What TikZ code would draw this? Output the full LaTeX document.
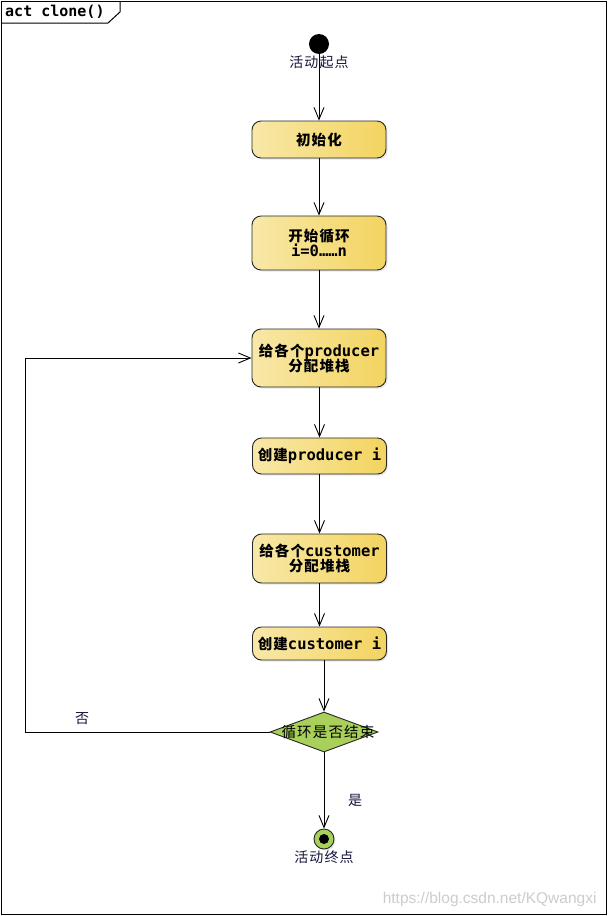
\documentclass[tikz,border=0pt]{standalone}
\usepackage{fontspec}
\setsansfont{Liberation Sans}
\newfontfamily\cjk{Noto Sans CJK SC}[LetterSpace=8]
\newfontfamily\monob{DejaVu Sans Mono}
\usetikzlibrary{shapes.geometric, arrows.meta, positioning, shadows}
\definecolor{boxl}{RGB}{248, 232, 168}
\definecolor{boxr}{RGB}{243, 212, 96}
\definecolor{leaf}{RGB}{168, 208, 90}
\definecolor{ink}{RGB}{20, 20, 60}
\newcommand{\zh}[1]{{\cjk\bfseries\fontsize{14.5}{17}\selectfont #1}}

\tikzset{
  actbox/.style={draw=black!85, line width=0.9pt, rounded corners=9pt,
    left color=boxl, right color=boxr, minimum width=134pt, align=center,
    font=\monob\bfseries\fontsize{15.5}{16}\selectfont,
    drop shadow={opacity=0.2, shadow xshift=1.5pt, shadow yshift=-1.5pt}},
  flow/.style={-{Straight Barb[length=12pt, width=10pt]}, line width=0.9pt},
  tag/.style={font=\cjk\fontsize{14}{16}\selectfont, text=ink, inner sep=1pt}
}

\begin{document}
\begin{tikzpicture}[x=1pt, y=-1pt]
  \useasboundingbox (0,0) rectangle (608,916);
  % frame
  \draw[line width=1pt] (1,1) rectangle (606,914);
  \draw[line width=1pt] (1,23) -- (108,23) -- (120,12) -- (120,1);
  \node[anchor=west, inner sep=0pt, font=\monob\bfseries\fontsize{15}{16}\selectfont] (title) at (5,12) {act clone()};

  % start and end
  \node[circle, fill=black, minimum size=20pt, inner sep=0pt,
    label={[tag, label distance=0pt]below:活动起点}] (start) at (319,44) {};
  \node[circle, draw=black!85, line width=0.9pt, fill=leaf, minimum size=20pt, inner sep=0pt,
    drop shadow={opacity=0.2, shadow xshift=1.5pt, shadow yshift=-1.5pt},
    label={[tag, label distance=0pt]below:活动终点}] (end) at (324,839) {};
  \fill (end) circle (5pt);

  % actions
  \node[actbox, minimum height=37pt] (init) at (319,139.5) {\zh{初始化}};
  \node[actbox, minimum height=54pt] (loop) at (319,243) {\zh{开始循环}\\[-1pt]i=0\textbf{……}n};
  \node[actbox, minimum height=58pt] (prodstack) at (319,358) {\zh{给各个}producer\\[-1pt]\zh{分配堆栈}};
  \node[actbox, minimum height=36pt] (prodnew) at (319.5,456) {\zh{创建}producer i};
  \node[actbox, minimum height=49pt] (custstack) at (319.5,558.5) {\zh{给各个}customer\\[-1pt]\zh{分配堆栈}};
  \node[actbox, minimum height=33pt] (custnew) at (319.5,643.5) {\zh{创建}customer i};

  % decision
  \node[diamond, draw=black!85, line width=0.9pt, fill=leaf, minimum width=108pt,
    minimum height=40pt, inner sep=0pt,
    label={[font=\cjk\fontsize{14.5}{16}\selectfont, xshift=4pt]center:循环是否结束}] (dec) at (324,732) {};
  \coordinate (back) at (25,732);

  \node[tag] (no) at (82,719) {否};
  \node[tag] (yes) at (355,800) {是};

  % connectors
  \draw[flow] (start) -- (init);
  \draw[flow] (init) -- (loop);
  \draw[flow] (loop) -- (prodstack);
  \draw[flow] (prodstack.south -| prodnew) -- (prodnew);
  \draw[flow] (prodnew) -- (custstack);
  \draw[flow] (custstack) -- (custnew);
  \draw[flow] (custnew.south -| dec.north) -- (dec.north);
  \draw[flow] (dec) -- (end);
  \draw[flow] (dec.west) -- (back) |- (prodstack.west);

  % watermark
  \node[font=\sffamily\fontsize{15.5}{17}\selectfont, text=black!20, anchor=east] (mark) at (600,899) {https://blog.csdn.net/KQwangxi};
\end{tikzpicture}
\end{document}
